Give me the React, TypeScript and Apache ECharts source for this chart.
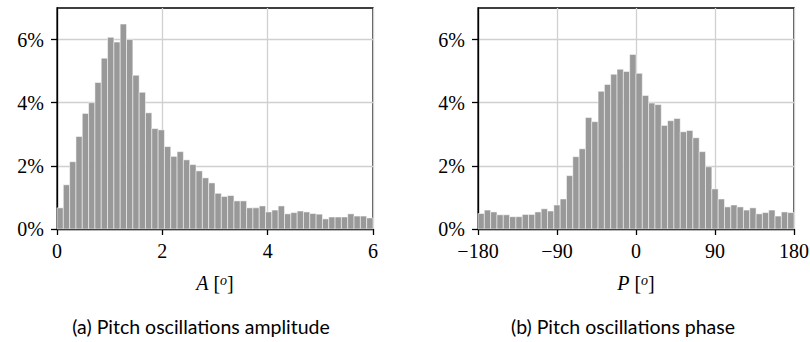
import React, { useEffect, useRef } from 'react';
import * as echarts from 'echarts';

const amplitudeRange = [0, 6];
const amplitudeTicks = [0, 2, 4, 6];
const amplitudePct = [
  0.67, 1.40, 2.13, 2.93, 3.66, 4.00, 4.64, 5.41, 6.07, 5.92,
  6.49, 6.00, 4.87, 4.33, 3.68, 3.18, 3.14, 2.61, 2.30, 2.45,
  2.19, 2.04, 1.84, 1.62, 1.46, 1.13, 1.03, 1.06, 0.89, 0.89,
  0.67, 0.67, 0.73, 0.54, 0.60, 0.73, 0.48, 0.52, 0.57, 0.54,
  0.49, 0.47, 0.32, 0.38, 0.38, 0.38, 0.48, 0.41, 0.41, 0.35,
];

const phaseRange = [-180, 180];
const phaseTicks = [-180, -90, 0, 90, 180];
const phasePct = [
  0.49, 0.60, 0.54, 0.45, 0.45, 0.39, 0.39, 0.46, 0.46, 0.54,
  0.64, 0.57, 0.76, 0.95, 1.69, 2.29, 2.54, 3.53, 3.40, 4.36,
  4.58, 4.90, 5.06, 4.99, 5.53, 4.93, 4.23, 3.99, 3.94, 3.28,
  3.43, 3.50, 3.08, 3.12, 2.89, 2.45, 1.97, 1.27, 0.95, 0.70,
  0.76, 0.70, 0.60, 0.67, 0.48, 0.52, 0.60, 0.41, 0.54, 0.52,
];

const pctMax = 7;
const pctTicks = [0, 2, 4, 6];
const xNames = ['A', 'P'];
const captions = ['(a) Pitch oscillations amplitude', '(b) Pitch oscillations phase'];

const SERIF = "'Liberation Serif', 'DejaVu Serif', serif";
const SANS = "Lato, 'Open Sans', sans-serif";

function binData(range: number[], values: number[]) {
  const w = (range[1] - range[0]) / values.length;
  return values.map((v, i) => [range[0] + i * w, range[0] + (i + 1) * w, v]);
}

const renderBar = (params: any, api: any) => {
  const x0 = api.value(0);
  const x1 = api.value(1);
  const y = api.value(2);
  const p0 = api.coord([x0, y]);
  const p1 = api.coord([x1, 0]);
  return {
    type: 'rect',
    shape: { x: p0[0], y: p0[1], width: p1[0] - p0[0], height: p1[1] - p0[1] },
    style: { fill: '#999999', stroke: '#ffffff', lineWidth: 0.5 },
  };
};

function xAxisCfg(gridIndex: number, range: number[], ticks: number[], name: string) {
  const interval = ticks[1] - ticks[0];
  return {
    type: 'value',
    gridIndex,
    min: range[0],
    max: range[1],
    interval,
    name: `{i|${name}}{n| [}{s|o}{n|]}`,
    nameLocation: 'middle',
    nameGap: 44,
    nameTextStyle: {
      rich: {
        i: { fontFamily: SERIF, fontStyle: 'italic', fontSize: 20, color: '#000' },
        n: { fontFamily: SERIF, fontSize: 20, color: '#000' },
        s: { fontFamily: SERIF, fontStyle: 'italic', fontSize: 14, color: '#000', verticalAlign: 'top' },
      },
    },
    axisLine: { show: true, onZero: false, lineStyle: { color: '#000', width: 1.3 } },
    axisTick: { show: true, inside: false, length: 6, lineStyle: { color: '#000', width: 1.3 } },
    axisLabel: {
      show: true,
      margin: 12,
      color: '#000',
      fontFamily: SERIF,
      fontSize: 20,
      formatter: (v: number) => String(v).replace('-', '\u2212'),
    },
    splitLine: { show: true, lineStyle: { color: '#d0d0d0', width: 1.3 } },
  };
}

function yAxisCfg(gridIndex: number) {
  return {
    type: 'value',
    gridIndex,
    min: 0,
    max: pctMax,
    interval: 2,
    axisLine: { show: true, onZero: false, lineStyle: { color: '#000', width: 1.3 } },
    axisTick: { show: true, inside: false, length: 6, customValues: pctTicks, lineStyle: { color: '#000', width: 1.3 } },
    axisLabel: {
      show: true,
      margin: 13,
      color: '#000',
      fontFamily: SERIF,
      fontSize: 20,
      customValues: pctTicks,
      formatter: (v: number) => `${v}%`,
    },
    splitLine: { show: true, lineStyle: { color: '#d0d0d0', width: 1.3 } },
  };
}

export default function App() {
  const ref = useRef<HTMLDivElement>(null);
  useEffect(() => {
    document.body.style.margin = '0';
    if (!ref.current) return;
    const chart = echarts.init(ref.current, null, { renderer: 'svg' });
    chart.setOption({
      animation: false,
      backgroundColor: '#ffffff',
      grid: [
        { left: 57, right: 437, top: 8, bottom: 113, show: true, borderColor: '#000', borderWidth: 1.3, containLabel: false, outerBoundsMode: 'none' },
        { left: 478, right: 16, top: 8, bottom: 113, show: true, borderColor: '#000', borderWidth: 1.3, containLabel: false, outerBoundsMode: 'none' },
      ],
      xAxis: [
        xAxisCfg(0, amplitudeRange, amplitudeTicks, xNames[0]),
        xAxisCfg(1, phaseRange, phaseTicks, xNames[1]),
      ],
      yAxis: [yAxisCfg(0), yAxisCfg(1)],
      series: [
        {
          type: 'custom',
          xAxisIndex: 0,
          yAxisIndex: 0,
          renderItem: renderBar,
          encode: { x: [0, 1], y: 2 },
          data: binData(amplitudeRange, amplitudePct),
        },
        {
          type: 'custom',
          xAxisIndex: 1,
          yAxisIndex: 1,
          renderItem: renderBar,
          encode: { x: [0, 1], y: 2 },
          data: binData(phaseRange, phasePct),
        },
      ],
      graphic: [
        {
          type: 'text',
          x: 201,
          y: 326,
          style: { text: captions[0], fontFamily: SANS, fontSize: 19.5, fill: '#000', textAlign: 'center', textVerticalAlign: 'middle' },
        },
        {
          type: 'text',
          x: 623,
          y: 326,
          style: { text: captions[1], fontFamily: SANS, fontSize: 19.5, fill: '#000', textAlign: 'center', textVerticalAlign: 'middle' },
        },
      ],
    });
    return () => chart.dispose();
  }, []);
  return <div ref={ref} style={{ width: 810, height: 342 }} />;
}
